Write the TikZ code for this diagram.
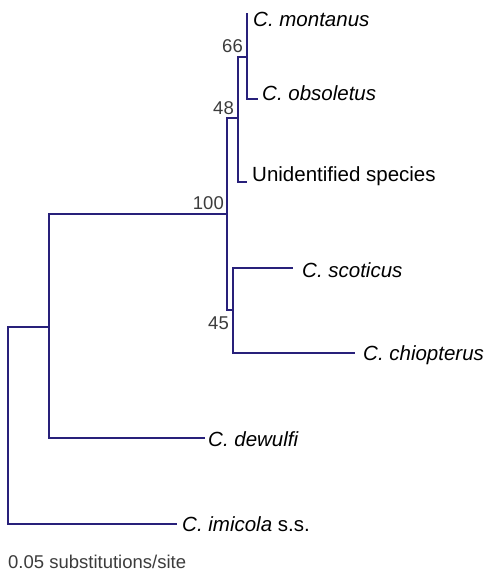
\documentclass[tikz,border=0pt]{standalone}
\usepackage{fontspec}
\setmainfont{Liberation Sans}
\definecolor{branch}{RGB}{40,32,122}
\definecolor{support}{RGB}{60,60,60}
\begin{document}
\begin{tikzpicture}[x=1pt,y=-1pt,
  edge/.style={draw=branch,line width=2.4pt,line join=miter},
  taxon/.style={anchor=base west,inner sep=0pt,font=\fontsize{20.5}{24}\selectfont},
  boot/.style={anchor=base east,inner sep=0pt,text=support,font=\fontsize{18.5}{22}\selectfont},
  scalelab/.style={anchor=base west,inner sep=0pt,text=support,font=\fontsize{18.5}{22}\selectfont}]
\useasboundingbox (0,0) rectangle (489,572);
% internal nodes
\coordinate (root) at (8,425);
\coordinate (nA) at (49,327);
\coordinate (n100) at (227,214);
\coordinate (n48) at (238,118);
\coordinate (n66) at (247,57);
\coordinate (n45) at (233,310);
% leaves
\coordinate (mont) at (247,13);
\coordinate (obs) at (258,99);
\coordinate (unid) at (247,182);
\coordinate (scot) at (293,268);
\coordinate (chio) at (355,353);
\coordinate (dew) at (205,438);
\coordinate (imi) at (177,524);
% branches
\draw[edge] (root) |- (nA);
\draw[edge] (root) |- (imi);
\draw[edge] (nA) |- (n100);
\draw[edge] (nA) |- (dew);
\draw[edge] (n100) |- (n48);
\draw[edge] (n100) |- (n45);
\draw[edge] (n48) |- (n66);
\draw[edge] (n48) |- (unid);
\draw[edge] (n66) |- (mont);
\draw[edge] (n66) |- (obs);
\draw[edge] (n45) |- (scot);
\draw[edge] (n45) |- (chio);
% taxon labels
\node[taxon] (lmont) at (253,27) {\itshape C. montanus};
\node[taxon] (lobs) at (262,101) {\itshape C. obsoletus};
\node[taxon] (lunid) at (252,181) {Unidentified species};
\node[taxon] (lscot) at (302,277) {\itshape C. scoticus};
\node[taxon] (lchio) at (363,360) {\itshape C. chiopterus};
\node[taxon] (ldew) at (208,446) {\itshape C. dewulfi};
\node[taxon] (limi) at (182,531) {\textit{C. imicola} s.s.};
% support values
\node[boot] (b66) at (243,53) {66};
\node[boot] (b48) at (234,115) {48};
\node[boot] (b100) at (224,209) {100};
\node[boot] (b45) at (229,329) {45};
% scale
\node[scalelab] (scale) at (8,568) {0.05 substitutions/site};
\end{tikzpicture}
\end{document}
